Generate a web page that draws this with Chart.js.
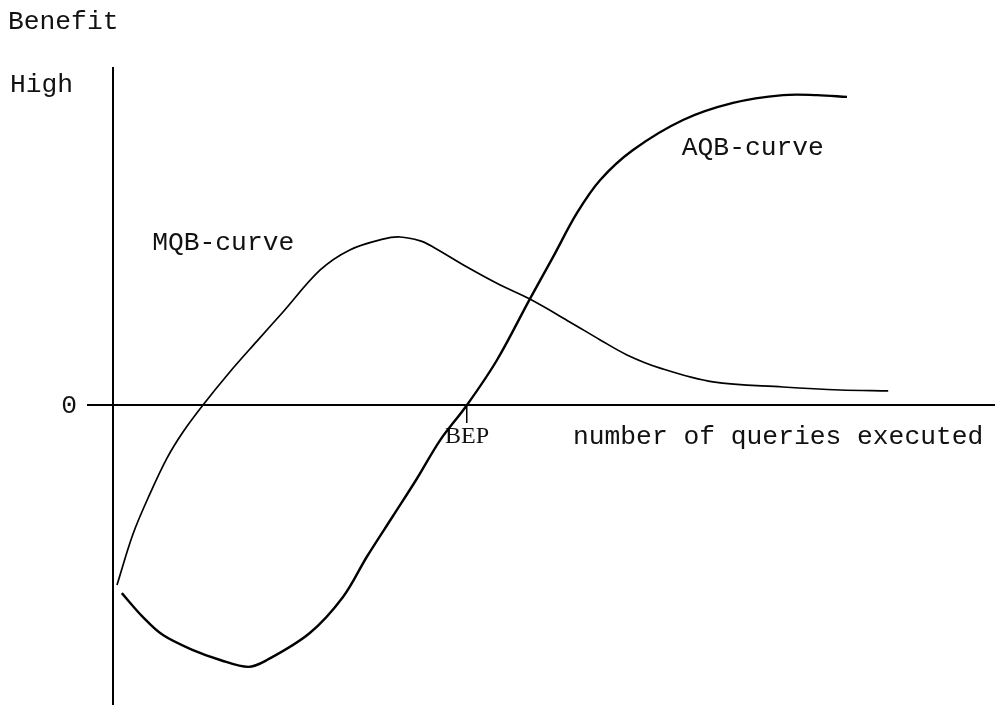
<!DOCTYPE html>
<html>
<head>
<meta charset="utf-8">
<script src="https://cdn.jsdelivr.net/npm/chart.js@4.4.1/dist/chart.umd.min.js"></script>
<style>
  html, body { margin: 0; padding: 0; background: #fff; }
  #wrap { width: 995px; height: 705px; }
</style>
</head>
<body>
<div id="wrap"><canvas id="chart"></canvas></div>
<script>
// MQB-curve (benefit vs. number of queries executed)
const mqbX = [0.5, 2.5, 4.6, 6.75, 8.75, 11.25, 14.6, 18, 21.25, 25.9, 29.6, 33.75, 35.9, 38.4, 40, 44.25, 48.4, 52.1, 57.1, 60.9, 64.25, 68.4, 75, 83.75, 90.9, 96.9];
const mqbY = [-60, -43, -29.7, -17.7, -9, 0, 11, 21.3, 31, 45, 51.7, 55.3, 56, 54.7, 52.7, 46, 40, 35.3, 27.7, 21.7, 16.7, 12.3, 7.7, 6, 5, 4.7];

// AQB-curve
const aqbX = [1.1, 3.75, 6.25, 10, 13.4, 16.9, 19.25, 24.6, 28.75, 31.75, 35, 38, 40.9, 44.25, 48, 52.1, 55, 58, 60.9, 65, 71.25, 77.5, 83.75, 88, 91.75];
const aqbY = [-62.7, -70.7, -76.7, -81.7, -85, -87.3, -85, -76, -64, -50.5, -37, -24.5, -11.7, 0, 15, 35.3, 49.3, 64, 75, 85, 95, 100.7, 103.3, 103.3, 102.7];

// break-even point on the x axis
const bepX = [44.25];
const bepLabels = ['BEP'];

const toPoints = (xs, ys) => xs.map((v, i) => ({ x: v, y: ys[i] }));

// Text labels drawn on top
const labelPlugin = {
    id: 'labels',
    afterDraw(chart) {
        const { ctx, scales: { x, y } } = chart;
        ctx.save();
        ctx.fillStyle = '#111';
        ctx.font = '26.3px "Liberation Mono", monospace';
        ctx.textBaseline = 'alphabetic';
        ctx.textAlign = 'left';
        ctx.fillText('Benefit', 8, 29);
        ctx.fillText('High', 10, 92);
        ctx.fillText('MQB-curve', x.getPixelForValue(4.9), y.getPixelForValue(51.7));
        ctx.fillText('AQB-curve', x.getPixelForValue(71.1), y.getPixelForValue(83.3));
        ctx.fillText('number of queries executed', x.getPixelForValue(57.5), y.getPixelForValue(-13));
        ctx.textAlign = 'right';
        ctx.fillText('0', 77, y.getPixelForValue(0) + 8);
        ctx.restore();
    }
};

const ctx = document.getElementById('chart').getContext('2d');
new Chart(ctx, {
    type: 'line',
    data: {
        datasets: [
            {
                label: 'MQB-curve',
                data: toPoints(mqbX, mqbY),
                borderColor: '#000',
                borderWidth: 1.7,
                pointRadius: 0,
                tension: 0.35
            },
            {
                label: 'AQB-curve',
                data: toPoints(aqbX, aqbY),
                borderColor: '#000',
                borderWidth: 2.4,
                pointRadius: 0,
                tension: 0.35
            }
        ]
    },
    options: {
        responsive: true,
        maintainAspectRatio: false,
        animation: false,
        layout: { padding: { left: 88, top: 68, right: 0, bottom: 0 } },
        plugins: {
            legend: { display: false },
            tooltip: { enabled: false }
        },
        scales: {
            x: {
                type: 'linear',
                min: -3.125,
                max: 110.25,
                position: { y: 0 },
                border: { display: true, color: '#000', width: 2 },
                grid: { drawOnChartArea: false, drawTicks: true, tickLength: 17, color: '#000', lineWidth: 1.5 },
                afterBuildTicks: (axis) => {
                    axis.ticks = bepX.map(v => ({ value: v }));
                },
                ticks: {
                    autoSkip: false,
                    maxRotation: 0,
                    padding: 0,
                    color: '#111',
                    font: { family: '"Liberation Serif", serif', size: 24 },
                    callback: (value, index) => bepLabels[index]
                }
            },
            y: {
                type: 'linear',
                min: -100,
                max: 112.33,
                position: { x: 0 },
                border: { display: true, color: '#000', width: 2 },
                grid: { display: false },
                ticks: { display: false }
            }
        }
    },
    plugins: [labelPlugin]
});
</script>
</body>
</html>
